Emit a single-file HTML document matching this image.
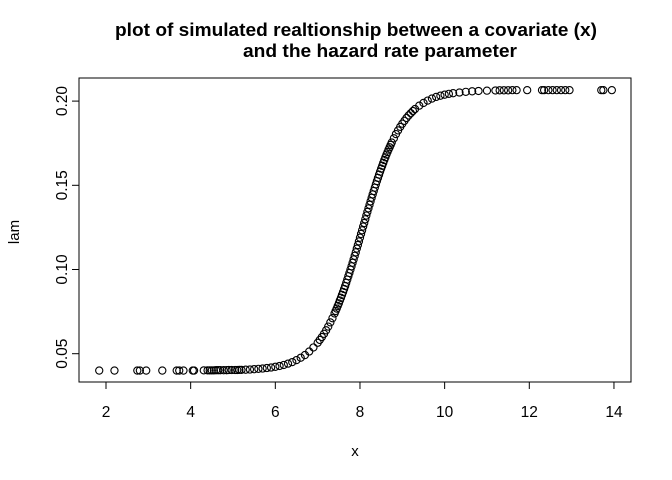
<!DOCTYPE html>
<html><head><meta charset="utf-8"><style>
body{margin:0;background:#fff;}
svg{display:block;font-family:"Liberation Sans",Arial,sans-serif;}
</style></head><body>
<svg id="chart" width="672" height="480" viewBox="0 0 672 480">
<text x="356" y="36" text-anchor="middle" font-size="18" font-weight="bold" textLength="482" lengthAdjust="spacingAndGlyphs">plot of simulated realtionship between a covariate (x)</text>
<text x="380" y="57" text-anchor="middle" font-size="18" font-weight="bold" textLength="274" lengthAdjust="spacingAndGlyphs">and the hazard rate parameter</text>
<rect x="79" y="78" width="552" height="304" fill="none" stroke="#000" stroke-width="1"/>
<g id="xaxis"></g>
<g id="yaxis"></g>
<g id="points"></g>
<text x="355" y="456" text-anchor="middle" font-size="15">x</text>
<text transform="translate(19,232) rotate(-90)" text-anchor="middle" font-size="15">lam</text>
</svg>
<script>
const xTicks=[2,4,6,8,10,12,14];
const yTicks=[0.05,0.10,0.15,0.20];
const yTickLabels=["0.05","0.10","0.15","0.20"];
const xVals=[1.84,2.2,2.74,2.8,2.95,3.33,3.67,3.73,3.83,4.05,4.08,4.31,4.4,4.45,4.5,4.55,4.6,4.65,4.7,4.78,4.85,4.9,4.97,5.05,5.1,5.15,5.2,5.3,5.4,5.5,5.6,5.7,5.8,5.9,6.0,6.1,6.2,6.3,6.4,6.5,6.6,6.7,6.8,6.9,
7.0,7.05,7.1,7.15,7.2,7.25,7.3,7.35,7.4,7.425,7.45,7.475,7.5,7.525,7.55,7.575,7.6,7.625,7.65,7.675,7.7,7.725,7.75,7.775,7.8,7.825,7.85,7.875,7.9,7.925,7.95,7.975,8.0,8.025,8.05,8.075,8.1,8.125,8.15,8.175,8.2,8.225,8.25,8.275,8.3,8.325,8.35,8.375,8.4,8.425,8.45,8.475,8.5,8.525,8.55,8.575,8.6,8.625,8.65,8.675,8.7,8.725,8.75,8.8,8.85,8.9,8.95,9.0,9.05,9.1,9.15,9.2,9.25,9.3,
9.4,9.5,9.6,9.7,9.8,9.9,10.0,10.1,10.2,10.35,10.5,10.65,10.8,11.0,11.2,11.3,11.4,11.5,11.6,11.7,11.95,12.3,12.35,12.45,12.55,12.65,12.75,12.85,12.95,13.7,13.75,13.95];
const lamVals=[0.04,0.04,0.04,0.04,0.04,0.04,0.04,0.04,0.04,0.04,0.04,0.0401,0.0401,0.0401,0.0401,0.0401,0.0402,0.0402,0.0402,0.0402,0.0402,0.0403,0.0403,0.0403,0.0403,0.0404,0.0404,0.0405,0.0406,0.0408,0.041,0.0412,0.0415,0.0418,0.0422,0.0427,0.0433,0.0441,0.045,0.0462,0.0476,0.0492,0.0513,0.0537,
0.0565,0.0582,0.0599,0.0618,0.0639,0.0661,0.0686,0.0711,0.0739,0.0754,0.0768,0.0784,0.0799,0.0816,0.0832,0.0849,0.0866,0.0884,0.0902,0.0921,0.094,0.096,0.0979,0.0999,0.1019,0.104,0.106,0.1081,0.1102,0.1124,0.1145,0.1167,0.1189,0.1211,0.1233,0.1255,0.1276,0.1298,0.132,0.1342,0.1363,0.1384,0.1405,0.1426,0.1446,0.1466,0.1486,0.1506,0.1525,0.1544,0.1563,0.1581,0.1599,0.1616,0.1633,0.165,0.1666,0.1682,0.1697,0.1712,0.1726,0.174,0.1754,0.1779,0.1804,0.1826,0.1847,0.1866,0.1883,0.19,0.1915,0.1928,0.1941,0.1953,
0.1973,0.1989,0.2003,0.2015,0.2025,0.2032,0.2038,0.2043,0.2047,0.2051,0.2055,0.2058,0.206,0.2062,0.2063,0.2064,0.2064,0.2064,0.2065,0.2065,0.2065,0.2065,0.2065,0.2065,0.2065,0.2065,0.2065,0.2065,0.2065,0.2065,0.2065,0.2065];
const NS="http://www.w3.org/2000/svg";
function sx(v){return 106+(v-2)*42.33;}
function sy(v){return 353.7-(v-0.05)*1684;}
const xa=document.getElementById('xaxis'),ya=document.getElementById('yaxis'),pg=document.getElementById('points');
function mk(tag,attrs,parent){const e=document.createElementNS(NS,tag);for(const k in attrs)e.setAttribute(k,attrs[k]);parent.appendChild(e);return e;}
const xl=mk('line',{x1:sx(xTicks[0]),x2:sx(xTicks[xTicks.length-1]),y1:382,y2:382,stroke:'#000'},xa);


xTicks.forEach(t=>{
 const l=mk('line',{x1:sx(t),x2:sx(t),y1:382,y2:389,stroke:'#000'},xa);
 
 
 const tx=mk('text',{x:sx(t),y:417,'text-anchor':'middle','font-size':15.5},xa);
 tx.textContent=t;
 
 
});
const yl=mk('line',{x1:79,x2:79,y1:sy(yTicks[0]),y2:sy(yTicks[yTicks.length-1]),stroke:'#000'},ya);


yTicks.forEach((t,i)=>{
 const l=mk('line',{x1:72,x2:79,y1:sy(t),y2:sy(t),stroke:'#000'},ya);
 
 
 const tx=mk('text',{transform:`translate(67,${sy(t)}) rotate(-90)`,'text-anchor':'middle','font-size':15.5},ya);
 tx.textContent=yTickLabels[i];
 
 
});
xVals.forEach((x,i)=>{
 const c=mk('circle',{cx:sx(x),cy:sy(lamVals[i]),r:3.6,fill:'none',stroke:'#000','stroke-width':1.1},pg);
 
 
});
</script>
</body></html>
